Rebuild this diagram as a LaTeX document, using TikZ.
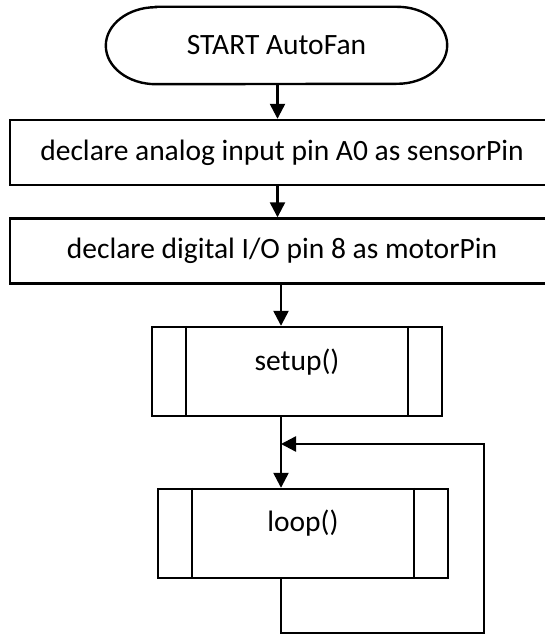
\documentclass[tikz,border=0pt]{standalone}
\usepackage{fontspec}
\setmainfont{Carlito}
\usetikzlibrary{arrows.meta}
\begin{document}
\begin{tikzpicture}[x=1pt,y=-1pt,
  every node/.style={font=\fontsize{29.5}{34}\selectfont},
  shapebox/.style={draw,line width=2.4pt,inner sep=0pt,minimum width=#1},
  term/.style={inner sep=0pt,minimum width=341pt,minimum height=77pt},
  procbox/.style={shapebox=544pt,minimum height=65pt},
  predef/.style={shapebox=290pt,minimum height=89pt},
  conn/.style={line width=2.4pt,-{Triangle[width=15pt,length=15pt]}},
  plainline/.style={line width=2.4pt}]
\useasboundingbox (0,0) rectangle (545,639);
\begin{scope}
\clip (0,0) rectangle (545,639);
\node[term] (start) at (276.5,45.5) {START AutoFan};
\draw[plainline] ([xshift=50pt]start.north west) -- ([xshift=-50pt]start.north east)
  arc[start angle=90, end angle=-90, x radius=50pt, y radius=38.5pt]
  -- ([xshift=50pt]start.south west)
  arc[start angle=270, end angle=90, x radius=50pt, y radius=38.5pt] -- cycle;
\node[procbox] (box1) at (282,152.5) {declare analog input pin A0 as sensorPin};
\node[procbox] (box2) at (282,251) {declare digital I/O pin 8 as motorPin};
\node[predef] (setup) at (297,371.5) {};
\node (setuptxt) at (297,362) {setup()};
\node[predef] (loop) at (303,533.5) {};
\node (looptxt) at (303,523) {loop()};
\foreach \n in {setup,loop}{
  \draw[plainline] ([xshift=35pt]\n.north west) -- ([xshift=35pt]\n.south west);
  \draw[plainline] ([xshift=-35pt]\n.north east) -- ([xshift=-35pt]\n.south east);
}
\coordinate (colA) at (277.5,0);
\coordinate (colx) at (281,0);
\coordinate (fbbr) at (484,633);
\coordinate (fbtr) at (484,444);
\draw[conn] (start.south -| colA) -- (box1.north -| colA);
\draw[conn] (box1.south -| colA) -- (box2.north -| colA);
\draw[conn] (box2.south -| colx) -- (setup.north -| colx);
\draw[conn] (setup.south -| colx) -- (loop.north -| colx);
\draw[conn] (loop.south -| colx) |- (fbbr) -- (fbtr) -- (colx |- fbtr);
\end{scope}
\end{tikzpicture}
\end{document}
